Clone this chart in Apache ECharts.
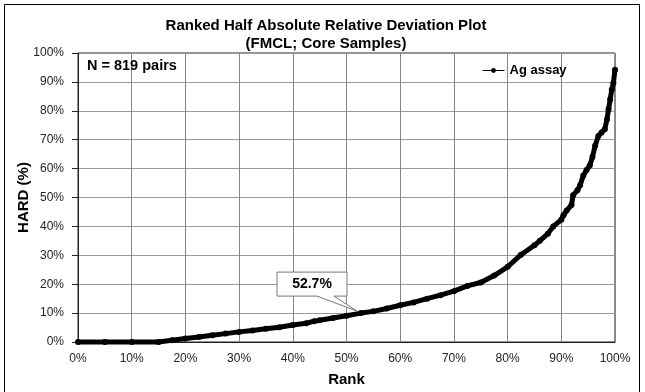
<!DOCTYPE html>
<html>
<head>
<meta charset="utf-8">
<script src="https://cdn.jsdelivr.net/npm/echarts@6/dist/echarts.min.js"></script>
<style>
html,body{margin:0;padding:0;background:#fff;}
#c{width:645px;height:392px;}
</style>
</head>
<body>
<div id="c"></div>
<script>
// ---- data ----
const titleLines = ["Ranked Half Absolute Relative Deviation Plot", "(FMCL; Core Samples)"];
const seriesName = "Ag assay";
const nLabel = "N = 819 pairs";
const rankPct = [0, 5, 10, 15, 17.5, 20, 22.5, 25, 27.5, 30, 32.5, 35, 37.5, 40, 42.5, 44, 45, 47.5, 50, 52.7, 55, 57.5, 60, 62.5, 65, 67.5, 70, 72.5, 75, 77.5, 80, 82.5, 85, 86, 87.5, 88.5, 90, 90.4, 91, 91.9, 92.2, 93, 93.5, 94.1, 94.7, 95.3, 95.8, 96.3, 96.9, 97.5, 98.1, 98.5, 98.8, 99.1, 99.4, 99.7, 100];
const hardPct = [0, 0, 0, 0, 0.6, 1.2, 1.7, 2.3, 2.9, 3.5, 4.0, 4.6, 5.1, 5.9, 6.5, 7.2, 7.5, 8.3, 9.1, 10.0, 10.6, 11.6, 12.7, 13.7, 15.0, 16.2, 17.6, 19.4, 20.6, 23.0, 26.0, 30.2, 33.5, 35.0, 37.5, 40.0, 42.3, 43.9, 45.5, 47.4, 50.8, 52.5, 54.2, 57.6, 59.5, 61.1, 64.0, 67.9, 71.3, 72.5, 73.6, 77.0, 80.5, 83.9, 87.3, 89.6, 94.2];
const calloutRank = 52.7;
const calloutHard = 10;
const calloutLabel = "52.7%";
const xTicks = [0, 10, 20, 30, 40, 50, 60, 70, 80, 90, 100];
const yTicks = [0, 10, 20, 30, 40, 50, 60, 70, 80, 90, 100];

const FONT = "'Liberation Sans', Arial, sans-serif";
const chart = echarts.init(document.getElementById('c'), null, {renderer: 'canvas'});
const points = rankPct.map((r, i) => [r, hardPct[i]]);

chart.setOption({
  animation: false,
  backgroundColor: '#fff',
  textStyle: {fontFamily: FONT},
  title: {
    text: titleLines.join('\n'),
    left: 321, top: 12, textAlign: 'center',
    textStyle: {fontFamily: FONT, fontSize: 15, fontWeight: 'bold', color: '#000', lineHeight: 18}
  },
  legend: {
    data: [seriesName],
    left: 477, top: 59,
    itemWidth: 22, itemHeight: 6, itemGap: 5,
    lineStyle: {width: 1},
    textStyle: {fontFamily: FONT, fontSize: 13, fontWeight: 'bold', color: '#000'}
  },
  grid: {left: 78, right: 30, top: 53, bottom: 47, show: true, borderColor: '#222', borderWidth: 1, containLabel: false},
  xAxis: {
    type: 'value', min: xTicks[0], max: xTicks[xTicks.length - 1], interval: 10,
    name: 'Rank', nameLocation: 'middle', nameGap: 30, nameMoveOverlap: false,
    nameTextStyle: {fontFamily: FONT, fontSize: 15, fontWeight: 'bold', color: '#000'},
    axisLine: {show: true, lineStyle: {color: '#222', width: 1}},
    axisTick: {show: false},
    axisLabel: {formatter: v => v + '%', margin: 11, fontFamily: FONT, fontSize: 12, color: '#222'},
    splitLine: {show: true, lineStyle: {color: '#858585', width: 1}}
  },
  yAxis: {
    type: 'value', min: yTicks[0], max: yTicks[yTicks.length - 1], interval: 10,
    name: 'HARD (%)', nameLocation: 'middle', nameGap: 47, nameMoveOverlap: false,
    nameTextStyle: {fontFamily: FONT, fontSize: 15, fontWeight: 'bold', color: '#000'},
    axisLine: {show: true, lineStyle: {color: '#222', width: 1}},
    axisTick: {show: true, inside: false, length: 6, lineStyle: {color: '#222'}},
    axisLabel: {formatter: v => v + '%', margin: 14, fontFamily: FONT, fontSize: 12, color: '#222'},
    splitLine: {show: true, lineStyle: {color: '#9a9a9a', width: 1}}
  },
  series: [{
    name: seriesName,
    type: 'line',
    data: points,
    clip: false,
    showAllSymbol: true,
    symbol: 'circle', symbolSize: 6,
    itemStyle: {color: '#000'},
    lineStyle: {color: '#000', width: 5},
    z: 3
  }]
});

function drawOverlay() {
  const p = chart.convertToPixel({gridIndex: 0}, [calloutRank, calloutHard]);
  const px = p[0], py = p[1];
  const L = px - 84, R = px - 14, T = py - 41, B = py - 17;
  const tip = [px - 4, py - 2];
  const plotTL = chart.convertToPixel({gridIndex: 0}, [0, 100]);
  chart.setOption({
    graphic: [
      {type: 'rect', shape: {x: 4.5, y: 4.5, width: 635, height: 400}, style: {fill: null, stroke: '#000', lineWidth: 1}, z: 0, silent: true},
      {type: 'polygon', shape: {points: [[L, T], [R, T], [R, B], [px - 27, B], tip, [px - 44, B], [L, B]]},
        style: {fill: '#fff', stroke: '#777', lineWidth: 1}, z: 10},
      {type: 'text', x: (L + R) / 2, y: (T + B) / 2,
        style: {text: calloutLabel, font: 'bold 14px ' + FONT, fill: '#000', align: 'center', verticalAlign: 'middle'}, z: 11},
      {type: 'text', x: plotTL[0] + 9, y: plotTL[1] + 13,
        style: {text: nLabel, font: 'bold 14.5px ' + FONT, fill: '#000', align: 'left', verticalAlign: 'middle'}, z: 11}
    ]
  });
}
drawOverlay();
</script>
</body>
</html>
